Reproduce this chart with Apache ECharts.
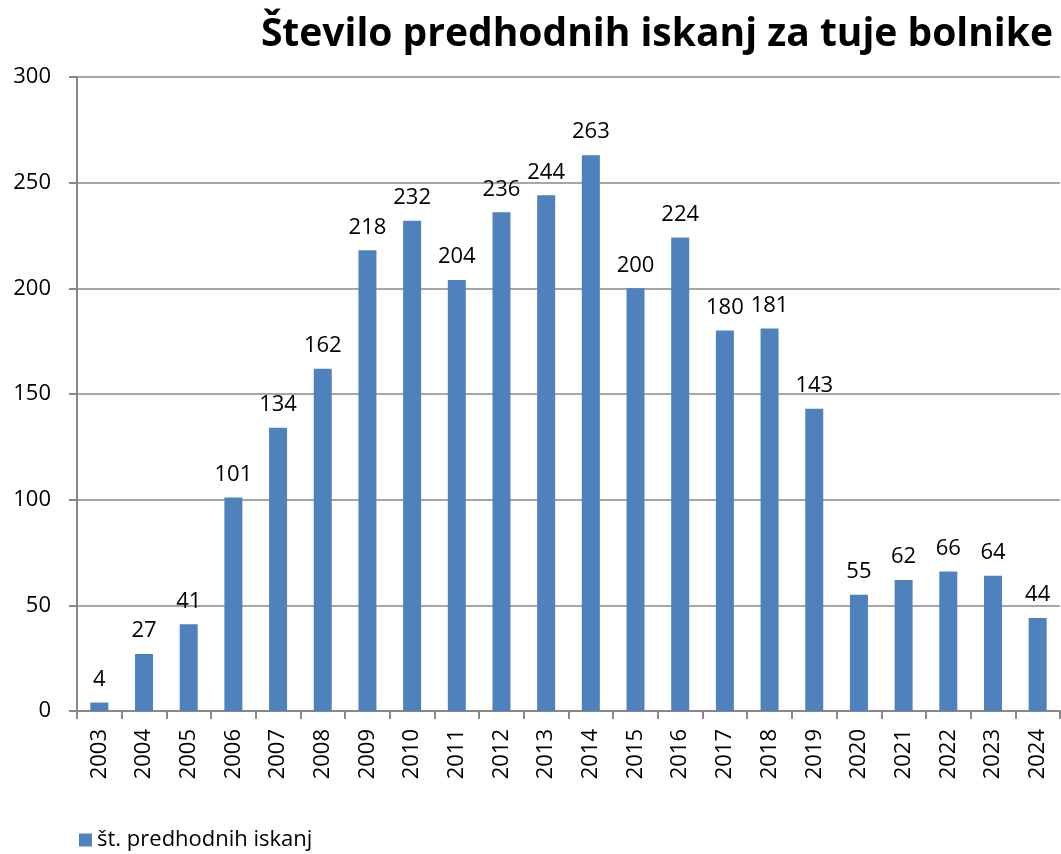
<!DOCTYPE html>
<html>
<head>
<meta charset="utf-8">
<script src="https://cdn.jsdelivr.net/npm/echarts@6/dist/echarts.min.js"></script>
<style>
  html, body { margin: 0; padding: 0; background: #fff; }
  #chart { width: 1061px; height: 854px; }
</style>
</head>
<body>
<div id="chart"></div>
<script>
  const years = ['2003', '2004', '2005', '2006', '2007', '2008', '2009', '2010', '2011', '2012', '2013',
    '2014', '2015', '2016', '2017', '2018', '2019', '2020', '2021', '2022', '2023', '2024']
  const searches = [4, 27, 41, 101, 134, 162, 218, 232, 204, 236, 244, 263, 200, 224, 180, 181, 143, 55, 62, 66, 64, 44]

  let chart = echarts.init(document.getElementById('chart'))
  chart.setOption({
    animation: false,
    textStyle: { fontFamily: 'Open Sans' },
    title: {
      text: 'Število predhodnih iskanj za tuje bolnike',
      right: 3,
      top: 10,
      textStyle: { fontSize: 39, fontWeight: 'bold', color: '#000', fontFamily: 'Open Sans' }
    },
    legend: {
      left: 74,
      top: 824,
      itemWidth: 13,
      itemHeight: 13,
      itemGap: 6,
      icon: 'rect',
      textStyle: { fontSize: 22, color: '#000' },
      data: ['št. predhodnih iskanj']
    },
    grid: { left: 77, right: 1, top: 77, bottom: 143 },
    xAxis: {
      type: 'category',
      data: years,
      axisLine: { lineStyle: { color: '#888', width: 2 } },
      axisTick: { show: true, length: 8, lineStyle: { color: '#888', width: 2 } },
      axisLabel: { rotate: 90, fontSize: 22, color: '#000', margin: 18 }
    },
    yAxis: {
      type: 'value',
      min: 0,
      max: 300,
      interval: 50,
      axisLine: { show: true, lineStyle: { color: '#888', width: 2 } },
      axisTick: { show: true, length: 8, lineStyle: { color: '#888', width: 2 } },
      axisLabel: { fontSize: 22, color: '#000', margin: 26 },
      splitLine: { lineStyle: { color: '#888', width: 1.5 } }
    },
    series: [{
      name: 'št. predhodnih iskanj',
      type: 'bar',
      data: searches,
      barWidth: 18,
      itemStyle: { color: '#4F81BD' },
      label: { show: true, position: 'top', distance: 12, fontSize: 22, color: '#000' }
    }]
  })
</script>
</body>
</html>
